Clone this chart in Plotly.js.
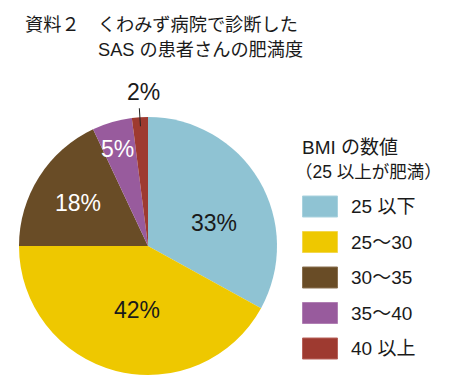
<!DOCTYPE html>
<html>
<head>
<meta charset="utf-8">
<script src="https://cdn.plot.ly/plotly-3.0.1.min.js"></script>
<style>html,body{margin:0;padding:0;background:#fff;}#chart{width:450px;height:386px;}</style>
</head>
<body>
<div id="chart"></div>
<script>
// ---- data ----
const categories = ["25 以下", "25～30", "30～35", "35～40", "40 以上"];
const values = [33, 42, 18, 5, 2];
const colors = ["#8FC3D3", "#EEC800", "#694C26", "#985B9D", "#9E3A30"];
const swatchBorders = ["#A9D2DE", "#F3D74D", "#8A7050", "#B07FB3", "#B8625A"];
const labelColors = ["#1a1a1a", "#1a1a1a", "#ffffff", "#ffffff", "#1a1a1a"];
const titleLines = ["資料２　くわみず病院で診断した", "SAS の患者さんの肥満度"];
const legendTitleLines = ["BMI の数値", "（25 以上が肥満）"];

// ---- style / layout ----
const W = 450, H = 386;
const cx = 148, cy = 246, R = 129;
const labelR = [0.54, 0.50, 0.64, 0.79, null];
const labelAngOff = [11, -5, -1, -1, 0];
const FONT = "'Liberation Sans', Arial, 'Noto Sans CJK JP', sans-serif";
const px = (x) => x / W;
const py = (y) => 1 - y / H;

const total = values.reduce((a, b) => a + b, 0);
const annotations = [];
const shapes = [];
let cum = 0;
values.forEach((v, i) => {
  const mid = (cum + v / 2) / total * 360;
  cum += v;
  const pct = Math.round(v / total * 100) + "%";
  if (labelR[i] !== null) {
    const a = (mid + labelAngOff[i]) * Math.PI / 180;
    annotations.push({
      x: px(cx + Math.sin(a) * R * labelR[i]), y: py(cy - Math.cos(a) * R * labelR[i]),
      xref: "paper", yref: "paper", text: pct, showarrow: false,
      xanchor: "center", yanchor: "middle",
      font: {family: FONT, size: 23, color: labelColors[i]}
    });
  } else {
    const a = mid * Math.PI / 180;
    const x0 = cx + Math.sin(a) * R * 0.93, y0 = cy - Math.cos(a) * R * 0.93;
    const x1 = cx + Math.sin(a) * R * 1.07, y1 = cy - Math.cos(a) * R * 1.07;
    shapes.push({type: "line", xref: "paper", yref: "paper",
      x0: px(x0), y0: py(y0), x1: px(x1), y1: py(y1),
      line: {color: "#222", width: 1}});
    annotations.push({
      x: px(x1 + 4), y: py(y1 - 1), xref: "paper", yref: "paper",
      text: pct, showarrow: false, xanchor: "center", yanchor: "bottom",
      font: {family: FONT, size: 23, color: labelColors[i]}
    });
  }
});

// title
annotations.push({x: px(23), y: py(25), xref: "paper", yref: "paper", text: titleLines[0],
  showarrow: false, xanchor: "left", yanchor: "middle",
  font: {family: FONT, size: 18.2, color: "#1a1a1a"}});
annotations.push({x: px(96), y: py(50), xref: "paper", yref: "paper", text: titleLines[1],
  showarrow: false, xanchor: "left", yanchor: "middle",
  font: {family: FONT, size: 18.2, color: "#1a1a1a"}});

// legend title
annotations.push({x: px(300), y: py(147), xref: "paper", yref: "paper", text: legendTitleLines[0],
  showarrow: false, xanchor: "left", yanchor: "middle",
  font: {family: FONT, size: 19, color: "#1a1a1a"}});
annotations.push({x: px(293), y: py(172), xref: "paper", yref: "paper", text: legendTitleLines[1],
  showarrow: false, xanchor: "left", yanchor: "middle",
  font: {family: FONT, size: 17.5, color: "#1a1a1a"}});

// legend items
categories.forEach((c, i) => {
  const yc = 206.5 + i * 35.5;
  shapes.push({type: "rect", xref: "paper", yref: "paper",
    x0: px(302.5), x1: px(337.5), y0: py(yc - 10.5), y1: py(yc + 10.5),
    fillcolor: colors[i], line: {color: swatchBorders[i], width: 1}});
  annotations.push({x: px(349), y: py(yc), xref: "paper", yref: "paper", text: c,
    showarrow: false, xanchor: "left", yanchor: "middle",
    font: {family: FONT, size: 19, color: "#1a1a1a"}});
});

const trace = {
  type: "pie", labels: categories, values: values, sort: false,
  direction: "clockwise", rotation: 0,
  marker: {colors: colors, line: {width: 0}},
  textinfo: "none", hoverinfo: "label+percent",
  domain: {x: [px(cx - R), px(cx + R)], y: [py(cy + R), py(cy - R)]},
  showlegend: false
};

const layout = {
  width: W, height: H, margin: {l: 0, r: 0, t: 0, b: 0},
  paper_bgcolor: "#ffffff", plot_bgcolor: "#ffffff",
  showlegend: false, annotations: annotations, shapes: shapes
};

Plotly.newPlot("chart", [trace], layout, {displayModeBar: false, staticPlot: true});
</script>
</body>
</html>
